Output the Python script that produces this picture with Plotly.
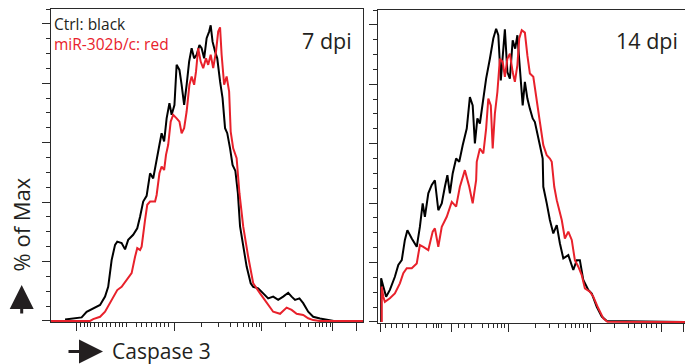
import plotly.graph_objects as go

# ---------------- data (channel units on x, % of max on y) ----------------
left_ctrl_x = [45, 98, 114, 135, 157, 173, 183, 194, 205, 212, 226, 237, 247, 263, 276, 285, 295, 306, 317, 327,
               338, 347, 354, 362, 370, 379, 386, 395, 402, 411, 418, 426, 434, 442, 450, 458, 466, 475, 482, 490,
               498, 506, 511, 517, 525, 532, 541, 549, 557, 564, 573, 581, 590, 598, 605, 615, 626, 639, 647, 663,
               679, 695, 711, 727, 743, 759, 770, 781, 795, 807, 823, 839, 861, 882, 905, 998]
left_ctrl_y = [0.5, 1.2, 3.1, 4.3, 5.4, 8.2, 11.5, 20.5, 25.6, 26.7, 26.2, 24.1, 27.3, 29.0, 31.2, 35.1, 40.2, 42.1, 49.7, 48.0,
               53.6, 59.3, 63.2, 60.4, 68.2, 73.3, 69.4, 72.7, 86.2, 84.5, 79.5, 72.7, 79.5, 87.3, 91.8, 88.4, 89.6, 92.9, 91.8, 88.4,
               95.2, 97.4, 99.5, 94.0, 90.7, 88.4, 80.6, 75.0, 64.9, 63.2, 58.1, 52.5, 50.5, 43.0, 31.8, 25.0, 18.3, 12.7, 11.5, 11.0,
               9.3, 7.6, 8.2, 7.1, 8.2, 9.5, 8.2, 7.1, 7.6, 6.0, 3.1, 1.4, 0.8, 0.3, 0, 0]

left_mir_x = [0, 125, 135, 157, 173, 194, 212, 226, 242, 258, 269, 276, 285, 290, 301, 308, 317, 333, 338, 347,
              354, 362, 368, 375, 383, 391, 402, 411, 418, 426, 434, 443, 450, 458, 464, 471, 479, 487, 496, 503,
              511, 519, 528, 535, 541, 546, 554, 562, 570, 575, 583, 594, 603, 615, 631, 647, 669, 690, 711, 733,
              754, 770, 786, 807, 823, 839, 860, 998]
left_mir_y = [0, 0, 0.6, 1.4, 3.1, 7.1, 10.4, 11.5, 13.8, 16.1, 21.6, 24.5, 23.9, 25.0, 34.0, 39.1, 40.2, 40.2, 42.4, 49.7,
              52.0, 50.8, 55.9, 59.3, 67.1, 69.4, 68.2, 67.1, 63.2, 64.9, 70.5, 79.5, 82.3, 79.5, 83.9, 91.8, 87.3, 85.1, 88.4, 86.2,
              89.6, 85.1, 90.7, 97.4, 98.8, 89.6, 79.5, 82.3, 77.2, 63.7, 58.1, 54.8, 43.0, 31.8, 21.6, 12.7, 9.3, 6.0, 3.1, 2.4,
              4.5, 3.7, 2.4, 2.0, 0.9, 0.3, 0, 0]

right_ctrl_x = [10, 10, 17, 26, 38, 54, 65, 76, 86, 94, 108, 124, 134, 143, 150, 161, 172, 182, 193, 204,
                214, 222, 230, 239, 250, 260, 271, 284, 294, 303, 310, 318, 326, 337, 346, 358, 369, 378, 385, 393,
                399, 406, 414, 422, 431, 439, 446, 454, 463, 470, 478, 486, 495, 502, 510, 518, 527, 529, 540, 550,
                561, 572, 582, 593, 609, 625, 636, 646, 657, 673, 684, 700, 716, 732, 982]
right_ctrl_y = [0, 14.7, 11.9, 8.5, 10.8, 15.2, 19.2, 20.8, 27.6, 30.9, 28.1, 25.3, 32.0, 39.9, 35.4, 43.3, 46.1, 47.7, 37.6, 39.9,
                45.5, 49.4, 43.3, 50.0, 55.0, 53.9, 59.5, 65.1, 75.7, 72.9, 60.1, 68.5, 66.8, 75.2, 81.9, 88.6, 95.4, 98.7, 96.5, 81.3,
                89.7, 98.5, 84.1, 81.9, 94.8, 92.0, 96.5, 84.1, 72.9, 80.8, 75.2, 71.8, 68.5, 67.3, 62.9, 59.5, 55.0, 45.5, 39.9, 34.3,
                29.8, 32.6, 26.5, 21.4, 22.5, 17.5, 20.8, 20.8, 14.1, 10.8, 9.6, 5.1, 1.8, 0.3, 0]

right_mir_x = [12, 12, 17, 22, 38, 54, 70, 81, 92, 108, 124, 134, 145, 161, 175, 182, 193, 204, 220, 236,
               250, 262, 278, 292, 303, 314, 316, 326, 337, 346, 353, 361, 367, 374, 382, 390, 399, 406, 414, 422,
               431, 438, 446, 452, 460, 470, 478, 486, 497, 508, 518, 529, 540, 550, 556, 564, 572, 588, 598, 609,
               620, 630, 641, 652, 662, 678, 689, 705, 721, 734, 982]
right_mir_y = [0, 11.9, 8.5, 6.8, 8.0, 9.6, 13.0, 16.4, 18.1, 18.1, 19.7, 25.9, 25.3, 24.2, 30.4, 31.5, 25.3, 32.0, 35.4, 40.4,
               38.8, 45.5, 51.1, 45.5, 39.9, 47.7, 53.9, 58.4, 56.7, 65.1, 75.2, 72.9, 58.4, 70.1, 77.4, 88.6, 87.5, 82.5, 88.6, 90.3,
               84.1, 80.8, 86.4, 95.4, 98.2, 97.4, 89.7, 83.6, 82.5, 75.2, 67.3, 59.5, 56.1, 55.0, 53.9, 45.5, 41.0, 34.3, 28.1, 30.4,
               27.6, 20.8, 18.6, 15.8, 11.3, 10.2, 8.5, 4.6, 1.2, 0.1, 0]

# axis tick positions (biexponential-looking scale, no labels)
left_major_ticks = [80, 394, 675, 902, 976]
left_minor_ticks = [93, 106, 116, 125, 139, 151, 164, 176, 189, 205, 218, 229, 243, 274, 290, 306, 322, 336, 349, 362, 375,
                    482, 535, 573, 597, 615, 631, 644, 656, 666, 749, 797, 823, 845, 859, 869, 880, 893]
right_major_ticks = [9, 234, 419, 680, 908, 977]
right_minor_ticks = [24, 42, 58, 77, 97, 124, 154, 179, 187, 195, 204, 259, 278, 298, 333, 355, 369, 383, 396, 406,
                     504, 550, 579, 601, 618, 632, 645, 659, 670, 758, 801, 822, 844, 860, 874, 890]
y_major_ticks = [0, 20, 40, 60, 80, 100]

panel_titles = ["7 dpi", "14 dpi"]
legend_ctrl = "Ctrl: black"
legend_mir = "miR-302b/c: red"
y_title = "% of Max"
x_title = "Caspase 3"

BLACK = "#000000"
RED = "#e8212b"
FRAME = "#2a2a2a"
TEXT = "#231f20"
FONT = "Open Sans"

fig = go.Figure()

def add_pair(cx, cy, mx, my, xa, ya):
    fig.add_trace(go.Scatter(x=cx, y=cy, mode="lines", line=dict(color=BLACK, width=2),
                             xaxis=xa, yaxis=ya, showlegend=False, hoverinfo="skip"))
    fig.add_trace(go.Scatter(x=mx, y=my, mode="lines", line=dict(color=RED, width=2),
                             xaxis=xa, yaxis=ya, showlegend=False, hoverinfo="skip"))

add_pair(left_ctrl_x, left_ctrl_y, left_mir_x, left_mir_y, "x", "y")
add_pair(right_ctrl_x, right_ctrl_y, right_mir_x, right_mir_y, "x2", "y2")

# small dark tick artefacts under the axes
fig.add_trace(go.Scatter(x=[229], y=[-1.3], mode="markers", cliponaxis=False,
                         marker=dict(symbol="square", size=4, color=BLACK),
                         xaxis="x", yaxis="y", showlegend=False, hoverinfo="skip"))
fig.add_trace(go.Scatter(x=[192, 653], y=[-1.5, -6.7], mode="markers", cliponaxis=False,
                         marker=dict(symbol=["square", "line-ns"], size=[7, 8], color=BLACK,
                                     line=dict(color=BLACK, width=3)),
                         xaxis="x2", yaxis="y2", showlegend=False, hoverinfo="skip"))

W, H = 685, 364
def px(v):
    return v / W
def py(v):
    return 1 - v / H

xcommon = dict(showgrid=False, zeroline=False, showticklabels=False, showline=True,
               linecolor=FRAME, linewidth=1.3, ticks="outside", ticklen=8, tickwidth=1.2,
               tickcolor=FRAME, tickmode="array", mirror=True, layer="below traces")
ycommon = dict(showgrid=False, zeroline=False, showticklabels=False, showline=True,
               linecolor=FRAME, linewidth=1.3, ticks="outside", ticklen=8, tickwidth=1.2,
               tickcolor=FRAME, tickmode="array", tickvals=y_major_ticks, range=[-0.35, 105],
               minor=dict(dtick=5, ticks="outside", ticklen=4, tickwidth=1, tickcolor=FRAME),
               layer="below traces")

fig.update_layout(
    width=W, height=H, margin=dict(l=0, r=0, t=0, b=0),
    paper_bgcolor="white", plot_bgcolor="white", showlegend=False,
    xaxis=dict(**xcommon, domain=[px(51), px(363)], range=[0, 998.4], anchor="y",
               tickvals=left_major_ticks,
               minor=dict(tickmode="array", tickvals=left_minor_ticks, ticks="outside",
                          ticklen=4, tickwidth=1, tickcolor=FRAME)),
    yaxis=dict(**ycommon, domain=[py(322), py(9)], anchor="x", mirror=True),
    xaxis2=dict(**xcommon, domain=[px(378), 1.0], range=[0, 982.4], anchor="y2",
                tickvals=right_major_ticks,
                minor=dict(tickmode="array", tickvals=right_minor_ticks, ticks="outside",
                           ticklen=4, tickwidth=1, tickcolor=FRAME)),
    yaxis2=dict(**ycommon, domain=[py(323), py(10)], anchor="x2", mirror=False),
    font=dict(family=FONT, color=TEXT),
)

ann = []
ann.append(dict(text=legend_ctrl, x=px(52), y=py(24), xref="paper", yref="paper",
                xanchor="left", yanchor="middle", showarrow=False,
                font=dict(family=FONT, size=15.5, color=TEXT)))
ann.append(dict(text=legend_mir, x=px(52), y=py(44), xref="paper", yref="paper",
                xanchor="left", yanchor="middle", showarrow=False,
                font=dict(family=FONT, size=15.5, color=RED)))
ann.append(dict(text=panel_titles[0], x=px(327), y=py(40), xref="paper", yref="paper",
                xanchor="center", yanchor="middle", showarrow=False,
                font=dict(family=FONT, size=21.5, color=TEXT)))
ann.append(dict(text=panel_titles[1], x=px(647), y=py(40), xref="paper", yref="paper",
                xanchor="center", yanchor="middle", showarrow=False,
                font=dict(family=FONT, size=21.5, color=TEXT)))
ann.append(dict(text=y_title, x=px(20.5), y=py(225), xref="paper", yref="paper",
                xanchor="center", yanchor="middle", showarrow=False, textangle=-90,
                font=dict(family=FONT, size=22, color=TEXT)))
ann.append(dict(text=x_title, x=px(110), y=py(351), xref="paper", yref="paper",
                xanchor="left", yanchor="middle", showarrow=False,
                font=dict(family=FONT, size=21, color=TEXT)))
# arrows
ann.append(dict(text="", x=px(21.7), y=py(285), xref="paper", yref="paper",
                ax=0, ay=30, showarrow=True, arrowhead=2, arrowsize=1.6, arrowwidth=3,
                arrowcolor=TEXT, standoff=0))
ann.append(dict(text="", x=px(103), y=py(351.5), xref="paper", yref="paper",
                ax=-36, ay=0, showarrow=True, arrowhead=2, arrowsize=1.6, arrowwidth=3,
                arrowcolor=TEXT, standoff=0))
fig.update_layout(annotations=ann)

fig.write_html("out.html", config={"displayModeBar": False},
               post_script="document.body.style.margin='0';document.body.style.overflow='hidden';")
